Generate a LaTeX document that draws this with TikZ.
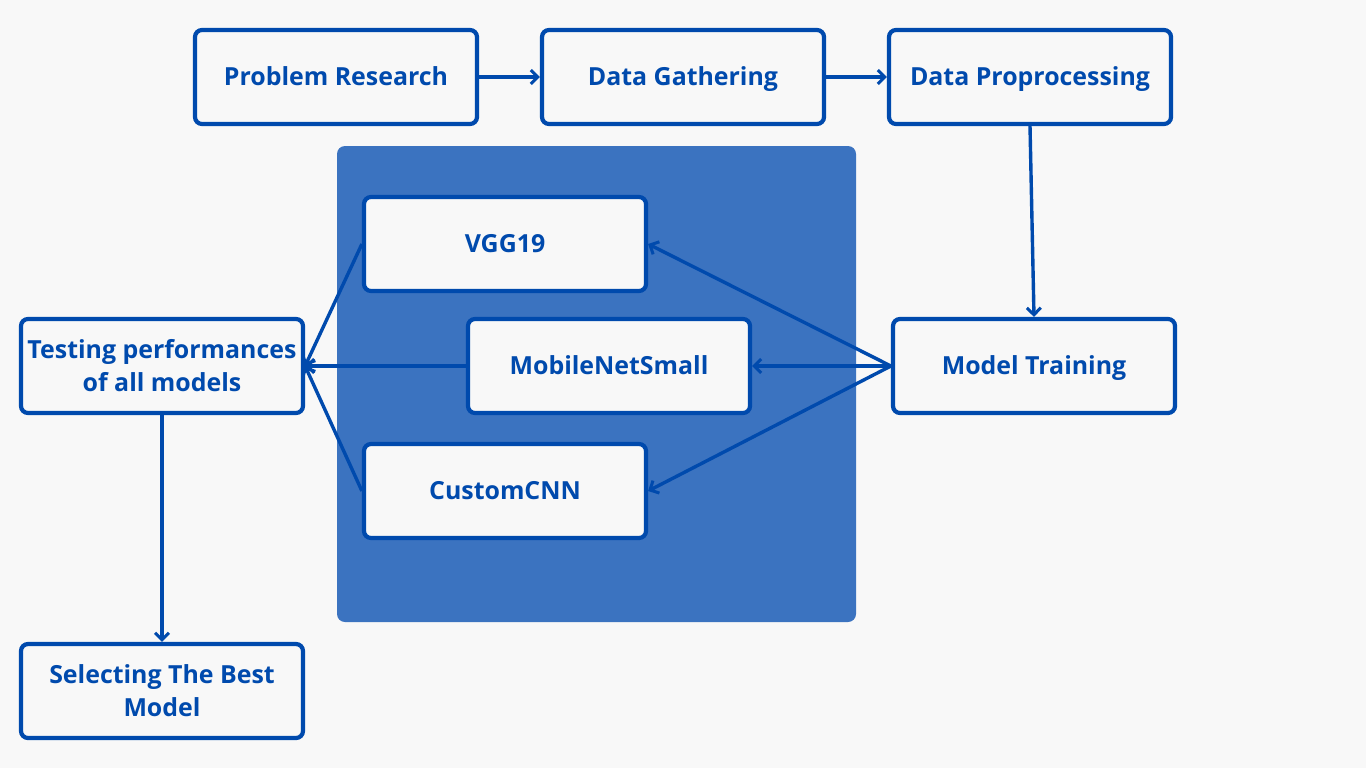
\documentclass[tikz,border=0pt]{standalone}
\usepackage{fontspec}
\setmainfont{Open Sans}
\usepackage{tikz}
\usetikzlibrary{positioning, arrows.meta}

\definecolor{stepblue}{HTML}{004AAD}
\definecolor{panelblue}{HTML}{3B73C0}
\definecolor{paper}{HTML}{F8F8F8}

\begin{document}
\begin{tikzpicture}[
  x=1bp, y=-1bp,
  font=\bfseries\fontsize{25}{34}\selectfont,
  stagebox/.style={draw=stepblue, fill=paper, line width=4.2bp, rounded corners=7bp,
    align=center, minimum width=282bp, minimum height=94bp, inner sep=3pt,
    text height=17.8bp, text depth=0bp, text=stepblue},
  twoline/.style={text height=51.8bp},
  flow/.style={-{Straight Barb[length=7bp, width=14bp, line width=3bp]}, line width=3.4bp, draw=stepblue}
]

% canvas
\fill[paper] (0,0) rectangle (1366,768);
\useasboundingbox (0,0) rectangle (1366,768);

% --- model panel ---
\fill[panelblue, rounded corners=8bp] (337,146) rectangle (856,622);

% --- top row ---
\node[stagebox](research) at (336,77) {Problem Research};
\node[stagebox](gather) at (683,77) {Data Gathering};
\node[stagebox](prep) at (1030,77) {Data Proprocessing};

% --- models ---
\node[stagebox](vgg) at (505,244) {VGG19};
\node[stagebox](mobile) at (609,366) {MobileNetSmall};
\node[stagebox](custom) at (505,491) {CustomCNN};

\node[stagebox](train) at (1034,366) {Model Training};
\node[stagebox, twoline](testing) at (162,366) {Testing performances\\of all models};
\node[stagebox, twoline](select) at (162,691) {Selecting The Best\\Model};

% connectors
\draw[flow](research.east) -- (gather.west);
\draw[flow](gather.east) -- (prep.west);
\draw[flow](prep.south) -- (train.north);

\draw[flow](train.west) -- (vgg.east);
\draw[flow](train.west) -- (mobile.east);
\draw[flow](train.west) -- (custom.east);

\draw[flow](vgg.west) -- (testing.east);
\draw[flow](mobile.west) -- (testing.east);
\draw[flow](custom.west) -- (testing.east);

\draw[flow](testing.south) -- (select.north);

\end{tikzpicture}
\end{document}
